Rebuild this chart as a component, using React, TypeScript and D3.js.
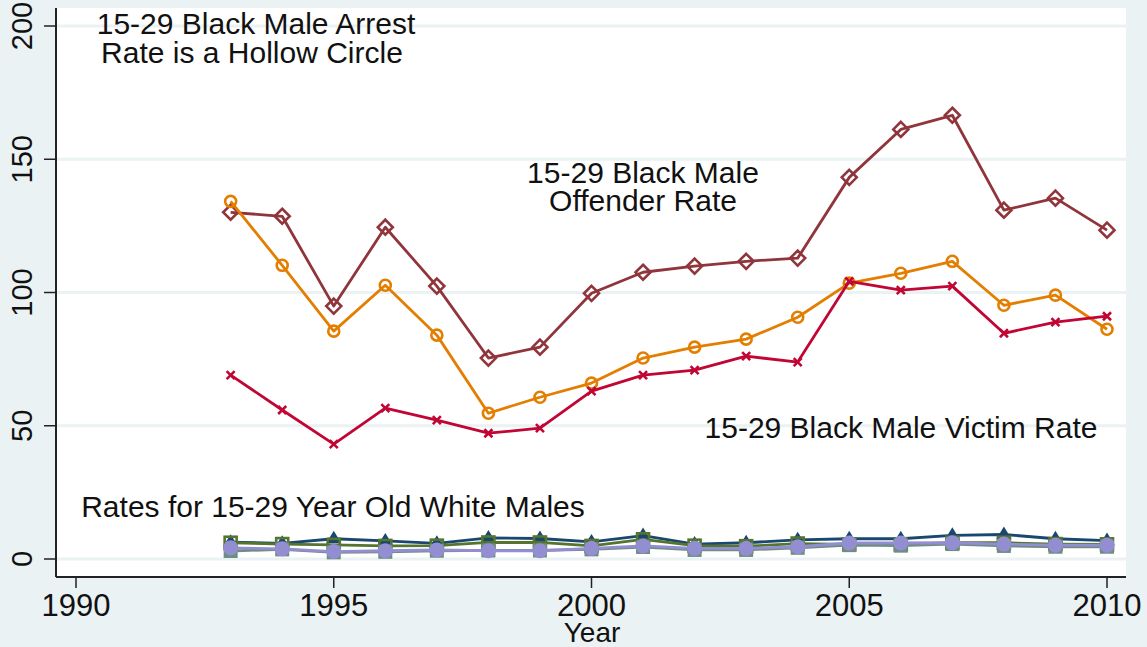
import React from "react";
import * as d3 from "d3";

const years = [1993, 1994, 1995, 1996, 1997, 1998, 1999, 2000, 2001, 2002, 2003, 2004, 2005, 2006, 2007, 2008, 2009, 2010];

// 15-29 black males
const blackOffender = [130.1, 128.6, 94.9, 124.5, 102.4, 75.4, 79.5, 99.7, 107.6, 109.9, 111.7, 112.9, 143.2, 161.2, 166.5, 130.9, 135.4, 123.4];
const blackArrest = [134.2, 110.2, 85.5, 102.7, 84.0, 54.7, 60.7, 66.0, 75.4, 79.5, 82.5, 90.7, 103.5, 107.2, 111.7, 95.2, 99.0, 86.2];
const blackVictim = [69.0, 55.9, 43.1, 56.6, 52.1, 47.2, 49.1, 63.0, 69.0, 70.9, 76.1, 73.9, 104.2, 100.9, 102.4, 84.7, 88.9, 91.1];

// 15-29 white males
const whiteNavy = [6.3, 5.9, 7.6, 6.8, 5.9, 7.9, 7.7, 6.4, 8.8, 5.6, 6.1, 7.2, 7.6, 7.6, 8.9, 9.2, 7.6, 6.9];
const whiteGreen = [6.1, 5.6, 5.3, 4.9, 5.0, 6.2, 6.2, 4.9, 7.4, 5.0, 4.8, 5.8, 5.5, 5.5, 6.1, 6.1, 5.6, 5.5];
const whiteTeal = [3.0, 3.6, 2.5, 2.7, 3.1, 3.2, 3.2, 3.6, 4.5, 3.4, 3.4, 4.2, 5.2, 5.0, 5.6, 4.9, 4.6, 4.6];
const whiteLavender = [4.2, 3.8, 2.8, 3.1, 3.4, 3.1, 3.1, 4.0, 4.9, 4.0, 4.0, 4.6, 6.0, 6.0, 6.1, 5.6, 5.2, 5.2];

const xTicks = [1990, 1995, 2000, 2005, 2010];
const yTicks = [0, 50, 100, 150, 200];

const W = 1147;
const H = 647;
const plot = { left: 56, right: 1126, top: 8, bottom: 577 };

const x = d3.scaleLinear().domain([1990, 2010]).range([76, 1107]);
const y = d3.scaleLinear().domain([0, 200]).range([559, 26]);

const BG = "#eaf2f3";
const FONT = "'Liberation Sans', Arial, Helvetica, sans-serif";

type Marker = "diamondHollow" | "circleHollow" | "x" | "triangle" | "squareHollow" | "square" | "circle";

function MarkerShape({ kind, cx, cy, color }: { kind: Marker; cx: number; cy: number; color: string }) {
  switch (kind) {
    case "diamondHollow": {
      const r = 7.5;
      return <path d={`M${cx},${cy - r}L${cx + r},${cy}L${cx},${cy + r}L${cx - r},${cy}Z`} fill="none" stroke={color} strokeWidth={2.6} />;
    }
    case "circleHollow":
      return <circle cx={cx} cy={cy} r={5.5} fill="none" stroke={color} strokeWidth={2.6} />;
    case "x": {
      const r = 4;
      return <path d={`M${cx - r},${cy - r}L${cx + r},${cy + r}M${cx - r},${cy + r}L${cx + r},${cy - r}`} stroke={color} strokeWidth={2.6} />;
    }
    case "triangle": {
      const r = 8;
      return <path d={`M${cx},${cy - r}L${cx + r * 0.95},${cy + r * 0.55}L${cx - r * 0.95},${cy + r * 0.55}Z`} fill={color} />;
    }
    case "squareHollow": {
      const r = 6;
      return <rect x={cx - r} y={cy - r} width={2 * r} height={2 * r} fill="none" stroke={color} strokeWidth={2.6} />;
    }
    case "square": {
      const r = 7;
      return <rect x={cx - r} y={cy - r} width={2 * r} height={2 * r} fill={color} />;
    }
    case "circle":
      return <circle cx={cx} cy={cy} r={7.5} fill={color} />;
  }
}

const series: { values: number[]; color: string; marker: Marker }[] = [
  { values: whiteNavy, color: "#1a476f", marker: "triangle" },
  { values: blackOffender, color: "#90353b", marker: "diamondHollow" },
  { values: whiteGreen, color: "#55752f", marker: "squareHollow" },
  { values: blackArrest, color: "#e37e00", marker: "circleHollow" },
  { values: whiteTeal, color: "#6e8e84", marker: "square" },
  { values: blackVictim, color: "#c10534", marker: "x" },
  { values: whiteLavender, color: "#938dd2", marker: "circle" },
];

const line = d3
  .line<number>()
  .x((_, i) => x(years[i]))
  .y((v) => y(v));

const ANN = 30;

export default function App() {
  return (
    <svg width={W} height={H} style={{ position: "absolute", left: 0, top: 0 }} fontFamily={FONT}>
      <rect x={0} y={0} width={W} height={H} fill={BG} />
      <rect x={plot.left} y={plot.top} width={plot.right - plot.left} height={plot.bottom - plot.top} fill="white" />

      {/* horizontal gridlines */}
      {yTicks.map((t) => (
        <line key={t} x1={plot.left} x2={plot.right} y1={y(t)} y2={y(t)} stroke={BG} strokeWidth={3} />
      ))}

      {/* series lines and markers */}
      {series.map((s, si) => (
        <g key={si}>
          <path d={line(s.values) ?? ""} fill="none" stroke={s.color} strokeWidth={2.8} strokeLinejoin="round" />
          {s.values.map((v, i) => (
            <MarkerShape key={i} kind={s.marker} cx={x(years[i])} cy={y(v)} color={s.color} />
          ))}
        </g>
      ))}

      {/* axes */}
      <line x1={plot.left} x2={plot.left} y1={plot.top} y2={plot.bottom} stroke="#222" strokeWidth={2} />
      <line x1={plot.left} x2={plot.right} y1={plot.bottom} y2={plot.bottom} stroke="#222" strokeWidth={2} />
      {yTicks.map((t) => (
        <g key={t}>
          <line x1={plot.left - 12} x2={plot.left} y1={y(t)} y2={y(t)} stroke="#222" strokeWidth={1.5} />
          <text
            transform={`translate(${32},${y(t)}) rotate(-90)`}
            textAnchor="middle"
            fontSize={29}
            fill="#111"
          >
            {t}
          </text>
        </g>
      ))}
      {xTicks.map((t) => (
        <g key={t}>
          <line x1={x(t)} x2={x(t)} y1={plot.bottom} y2={plot.bottom + 11} stroke="#222" strokeWidth={1.5} />
          <text x={x(t)} y={616} textAnchor="middle" fontSize={31} fill="#111">
            {t}
          </text>
        </g>
      ))}
      <text x={592} y={642} textAnchor="middle" fontSize={28} fill="#111">
        Year
      </text>

      {/* annotations */}
      <text x={256} y={34} textAnchor="middle" fontSize={ANN} fill="#111">
        15-29 Black Male Arrest
      </text>
      <text x={252} y={63} textAnchor="middle" fontSize={ANN} fill="#111">
        Rate is a Hollow Circle
      </text>
      <text x={643} y={183} textAnchor="middle" fontSize={ANN} fill="#111">
        15-29 Black Male
      </text>
      <text x={643} y={211} textAnchor="middle" fontSize={ANN} fill="#111">
        Offender Rate
      </text>
      <text x={901} y={438} textAnchor="middle" fontSize={ANN} fill="#111">
        15-29 Black Male Victim Rate
      </text>
      <text x={333} y={517} textAnchor="middle" fontSize={ANN} fill="#111">
        Rates for 15-29 Year Old White Males
      </text>
    </svg>
  );
}
